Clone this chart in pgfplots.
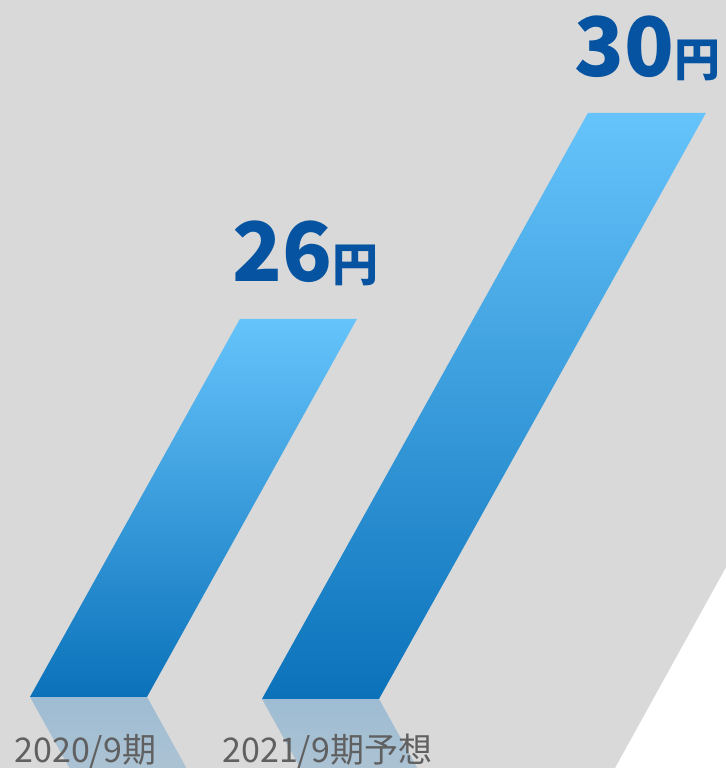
\documentclass[border=0pt]{standalone}
\usepackage{pgfplots}
\pgfplotsset{compat=1.18}
\usepackage{fontspec}
\setmainfont{Noto Sans CJK JP}
\definecolor{bg}{HTML}{D9D9D9}
\definecolor{bartop}{HTML}{66C4FB}
\definecolor{barbot}{HTML}{0B72BA}
\definecolor{reftop}{HTML}{9EBCD3}
\definecolor{refbot}{HTML}{B8C8D4}
\definecolor{lbl}{HTML}{0553A1}
\definecolor{xl}{HTML}{606060}
\begin{document}
\begin{tikzpicture}
\begin{axis}[
  hide axis, scale only axis,
  width=363pt, height=384pt,
  xmin=0, xmax=726, ymin=17.28, ymax=32.19,
  clip=true,
]
% background
\addplot[fill=bg, draw=none] coordinates {(-10,33) (736,33) (736,21.53) (615,17.28) (608,17.0) (-10,16)} -- cycle;
% reflections
\addplot[draw=none, top color=reftop, bottom color=refbot] coordinates {(30,18.66) (147,18.66) (223,16) (106,16)} -- cycle;
\addplot[draw=none, top color=reftop, bottom color=refbot] coordinates {(262,18.62) (379,18.62) (454,16) (337,16)} -- cycle;
% bars: 2020/9 = 26, 2021/9 forecast = 30
\addplot[draw=none, top color=bartop, bottom color=barbot] coordinates {(30,18.66) (147,18.66) (357,26) (240,26)} -- cycle;
\addplot[draw=none, top color=bartop, bottom color=barbot] coordinates {(262,18.62) (379,18.62) (706,30) (588,30)} -- cycle;
% value labels
\node[anchor=base west, inner sep=0, text=lbl, font=\bfseries\fontsize{41}{41}\selectfont] at (axis cs:232,26.72) {26{\fontsize{23}{23}\selectfont 円}};
\node[anchor=base west, inner sep=0, text=lbl, font=\bfseries\fontsize{41}{41}\selectfont] at (axis cs:574,30.70) {30{\fontsize{23}{23}\selectfont 円}};
% category labels
\node[anchor=base west, inner sep=0, text=xl, font=\fontsize{17}{17}\selectfont] at (axis cs:14,17.38) {2020/9期};
\node[anchor=base west, inner sep=0, text=xl, font=\fontsize{17}{17}\selectfont] at (axis cs:222,17.38) {2021/9期予想};
\end{axis}
\pgfresetboundingbox
\useasboundingbox (current axis.south west) rectangle (current axis.north east);
\end{tikzpicture}
\end{document}
